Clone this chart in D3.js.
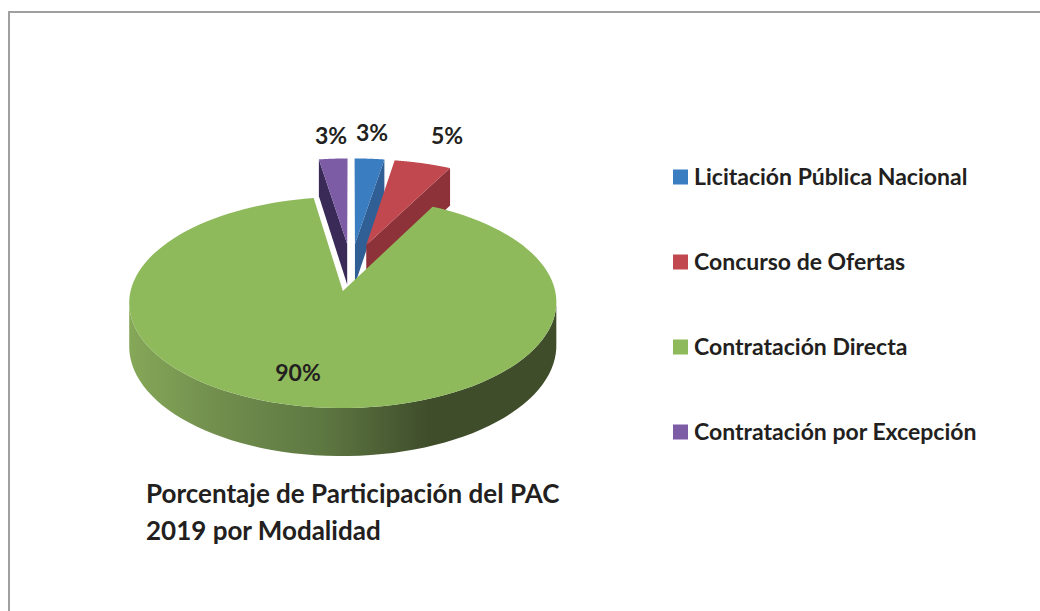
<!DOCTYPE html>
<meta charset="utf-8">
<head>
<style>
body { margin: 0; background: #fff; }
text { font-family: Lato, "Open Sans", sans-serif; font-weight: 700; fill: #231f20; }
</style>
<script src="https://d3js.org/d3.v7.min.js"></script>
</head>
<body>
<div id="chart"></div>
<script>
// values (labels show them rounded)
var categories = ["Licitación Pública Nacional", "Concurso de Ofertas", "Contratación Directa", "Contratación por Excepción"];
var values = [2.6, 5.0, 89.9, 2.5];
var colors = ["#3a7dc0", "#c1484f", "#8fba5c", "#7d5ca6"];
var wallColors = ["#2f5f94", "#8e3239", "#5f7a42", "#3a2a58"];
var titleLines = ["Porcentaje de Participación del PAC", "2019 por Modalidad"];

var width = 1040, height = 611;

// fake 3d: perspective on the pie plane, plus a drop for the thickness
var cx = 351, cy = 267, scaleX = 207, scaleY = 99.1, persp = 0.106, drop = 41.7, explode = 0.24;

var svg = d3.select("#chart").append("svg")
  .attr("width", width)
  .attr("height", height)
  .style("display", "block");

var grad = svg.append("defs").append("linearGradient")
  .attr("id", "sideGrad")
  .attr("gradientUnits", "userSpaceOnUse")
  .attr("x1", 128).attr("x2", 558).attr("y1", 0).attr("y2", 0);
[[0, "#86a858"], [0.2, "#728f4e"], [0.45, "#5e7842"], [0.7, "#3f4d2b"], [1, "#3f4d2b"]].forEach(function(s) {
  grad.append("stop").attr("offset", s[0]).attr("stop-color", s[1]);
});

// chart frame
svg.append("path")
  .attr("d", "M9,611V12H1040")
  .attr("fill", "none")
  .attr("stroke", "#a0a0a0")
  .attr("stroke-width", 2);

var pie = d3.pie().sort(null).value(function(d) { return d; });
var slices = pie(values);

function project(px, py, z) {
  var w = 1 / (1 - persp * py);
  return [cx + scaleX * px * w, cy + scaleY * py * w + z * drop * w];
}

// point on a slice: a = pie angle, r = radius, z = 0 top, 1 bottom
function point(s, a, r, z) {
  var m = (s.startAngle + s.endAngle) / 2;
  return project(explode * Math.sin(m) + r * Math.sin(a), -explode * Math.cos(m) - r * Math.cos(a), z);
}

function arcPoints(s, a0, a1, z) {
  return d3.range(0, 121).map(function(i) {
    return point(s, a0 + (a1 - a0) * i / 120, 1, z);
  });
}

var line = d3.line().curve(d3.curveLinearClosed);

// radial wall between the centre and the rim
function wall(s, a) {
  return line([point(s, a, 0, 0), point(s, a, 1, 0), point(s, a, 1, 1), point(s, a, 0, 1)]);
}

function topFace(s) {
  return line([point(s, 0, 0, 0)].concat(arcPoints(s, s.startAngle, s.endAngle, 0)));
}

var marks = svg.append("g");

// back slices first, green goes on top of them
[3, 0, 1].forEach(function(i) {
  var s = slices[i];
  marks.append("path").attr("d", wall(s, i == 3 ? s.startAngle : s.endAngle)).attr("fill", wallColors[i]);
  marks.append("path").attr("d", topFace(s)).attr("fill", colors[i]);
});

// green rim, between the left and right silhouette points
var big = slices[2];
var rim = arcPoints(big, big.startAngle, big.endAngle, 0);
var iRight = d3.greatestIndex(rim, function(p) { return p[0]; });
var iLeft = d3.leastIndex(rim, function(p) { return p[0]; });
var rimTop = rim.slice(iRight, iLeft + 1);
var rimBottom = arcPoints(big, big.startAngle, big.endAngle, 1).slice(iRight, iLeft + 1).reverse();
marks.append("path").attr("d", line(rimTop.concat(rimBottom))).attr("fill", "url(#sideGrad)");
marks.append("path").attr("d", line([point(big, 0, 0, 0)].concat(rim))).attr("fill", colors[2]);

// data labels
var labelPos = [[372, 133], [447, 136], [298, 373], [331, 136]];
values.forEach(function(v, i) {
  svg.append("text")
    .attr("x", labelPos[i][0])
    .attr("y", labelPos[i][1])
    .attr("dy", "0.36em")
    .attr("text-anchor", "middle")
    .style("font-size", "23px")
    .text(Math.round(v) + "%");
});

// legend
var legendY = d3.scalePoint().domain(categories).range([177, 432]);
var legend = svg.append("g").selectAll("g").data(categories).enter().append("g")
  .attr("transform", function(d) { return "translate(673," + legendY(d) + ")"; });
legend.append("rect")
  .attr("y", -7.5)
  .attr("width", 15)
  .attr("height", 15)
  .attr("fill", function(d, i) { return colors[i]; });
legend.append("text")
  .attr("x", 21)
  .attr("dy", "0.36em")
  .style("font-size", "23px")
  .text(function(d) { return d; });

// title under the pie
svg.append("g").selectAll("text").data(titleLines).enter().append("text")
  .attr("x", 146)
  .attr("y", function(d, i) { return 494 + i * 37; })
  .attr("dy", "0.36em")
  .style("font-size", "26px")
  .text(function(d) { return d; });
</script>
</body>
